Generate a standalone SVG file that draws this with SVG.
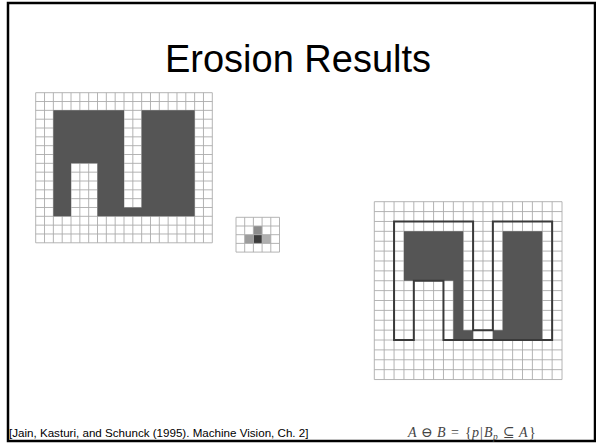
<svg xmlns="http://www.w3.org/2000/svg" width="596" height="445" viewBox="0 0 596 445">
<style>
.grid{fill:none;stroke:#acacac;stroke-width:0.9;vector-effect:non-scaling-stroke}
.dark{fill:#555}
.outline{fill:none;stroke:#3a3a3a;stroke-width:2;vector-effect:non-scaling-stroke;stroke-linejoin:miter}
.title{font-family:"Liberation Sans",Arial,sans-serif;font-size:38px;fill:#000}
.cite{font-family:"Liberation Sans",Arial,sans-serif;font-size:11.6px;fill:#000}
.math{font-family:"Liberation Serif","Times New Roman","DejaVu Serif",serif;font-size:14px;fill:#444}
.it{font-style:italic}
</style>
<rect x="0" y="0" width="596" height="445" fill="#fff"/>
<rect x="8" y="3" width="587" height="438" fill="none" stroke="#000" stroke-width="2.5"/>

<g id="title">
<text class="title" x="298" y="72" text-anchor="middle">Erosion Results</text>
</g>

<g id="image-A" transform="translate(35.7,92.7) scale(8.83)">
<path class="grid" d="M0 0V17M1 0V17M2 0V17M3 0V17M4 0V17M5 0V17M6 0V17M7 0V17M8 0V17M9 0V17M10 0V17M11 0V17M12 0V17M13 0V17M14 0V17M15 0V17M16 0V17M17 0V17M18 0V17M19 0V17M20 0V17M0 0H20M0 1H20M0 2H20M0 3H20M0 4H20M0 5H20M0 6H20M0 7H20M0 8H20M0 9H20M0 10H20M0 11H20M0 12H20M0 13H20M0 14H20M0 15H20M0 16H20M0 17H20"/>
<path class="dark" d="M2 2H10V13H12V2H18V14H7V8H4V14H2Z"/>
</g>

<g id="structuring-element-B" transform="translate(236,217.3) scale(8.7)">
<rect x="2" y="1" width="1" height="1" fill="#8c8c8c"/>
<rect x="1" y="2" width="1" height="1" fill="#9c9c9c"/>
<rect x="2" y="2" width="1" height="1" fill="#3c3c3c"/>
<rect x="3" y="2" width="1" height="1" fill="#b0b0b0"/>
<path class="grid" d="M0 0V4M1 0V4M2 0V4M3 0V4M4 0V4M5 0V4M0 0H5M0 1H5M0 2H5M0 3H5M0 4H5"/>
</g>

<g id="erosion-result" transform="translate(374.3,201.7) scale(9.88)">
<path class="grid" d="M0 0V18M1 0V18M2 0V18M3 0V18M4 0V18M5 0V18M6 0V18M7 0V18M8 0V18M9 0V18M10 0V18M11 0V18M12 0V18M13 0V18M14 0V18M15 0V18M16 0V18M17 0V18M18 0V18M19 0V18M0 0H19M0 1H19M0 2H19M0 3H19M0 4H19M0 5H19M0 6H19M0 7H19M0 8H19M0 9H19M0 10H19M0 11H19M0 12H19M0 13H19M0 14H19M0 15H19M0 16H19M0 17H19M0 18H19"/>
<path class="dark" d="M3 3H9V13H10V14H8V8H3Z"/>
<path class="dark" d="M13 3H17V14H12V13H13Z"/>
<path class="outline" d="M2 2H10V13H12V2H18V14H7V8H4V14H2Z"/>
</g>

<g id="citation">
<text class="cite" x="9" y="437">[Jain, Kasturi, and Schunck (1995). Machine Vision, Ch. 2]</text>
</g>

<g id="formula">
<text class="math" y="437"><tspan class="it" x="408">A</tspan><tspan x="421">⊖</tspan><tspan class="it" x="437">B</tspan><tspan x="451">=</tspan><tspan x="465">{</tspan><tspan class="it" x="472">p</tspan><tspan x="480">|</tspan><tspan class="it" x="484">B</tspan><tspan class="it" x="493" dy="2.5" font-size="9.5">p</tspan><tspan x="503" dy="-2.5">⊆</tspan><tspan class="it" x="519">A</tspan><tspan x="529">}</tspan></text>
</g>
</svg>
